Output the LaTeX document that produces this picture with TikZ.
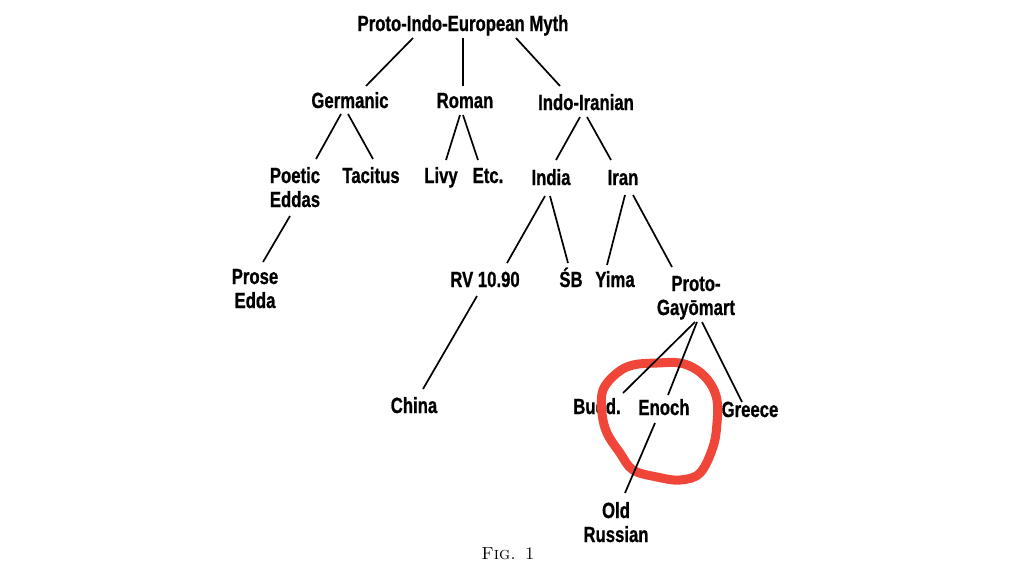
\documentclass[tikz,border=0pt]{standalone}
\usepackage{fontspec}
\newfontfamily\condfont{Liberation Sans Bold}[FakeStretch=0.76, FakeBold=0.8]
\usetikzlibrary{calc}
\definecolor{markred}{RGB}{240,70,58}
\tikzset{
  myth/.style={font=\condfont\fontsize{22}{24}\selectfont, inner sep=0pt, anchor=base, align=center},
  branch/.style={line width=1.7pt},
  ring/.style={draw=markred, line width=9pt, line join=round}
}
\begin{document}
\begin{tikzpicture}[x=1pt, y=-1pt]
	\useasboundingbox[fill=white] (0,0) rectangle (1024,563);
	\node[myth] (pie) at (463, 31) {Proto-Indo-European Myth};
	\node[myth] (germanic) at (350, 108) {Germanic};
	\node[myth] (roman) at (465, 108) {Roman};
	\node[myth] (indoir) at (586, 110) {Indo-Iranian};
	\node[myth] (poetic) at (295, 207) {Poetic\\Eddas};
	\node[myth] (tacitus) at (371, 183) {Tacitus};
	\node[myth] (livy) at (441, 183) {Livy};
	\node[myth] (etc) at (488, 183) {Etc.};
	\node[myth] (india) at (551, 185) {India};
	\node[myth] (iran) at (623, 185) {Iran};
	\node[myth] (prose) at (255, 308) {Prose\\Edda};
	\node[myth] (rv) at (485, 287) {RV 10.90};
	\node[myth] (sb) at (571, 287) {ŚB};
	\node[myth] (yima) at (615, 287) {Yima};
	\node[myth] (gayomart) at (696, 315) {Proto-\\Gayōmart};
	\node[myth] (china) at (414, 413) {China};
	\node[myth] (budd) at (597, 414) {Budd.};
	\node[myth] (enoch) at (664, 415) {Enoch};
	\node[myth] (greece) at (750, 417) {Greece};
	\node[myth] (russian) at (616, 542) {Old\\Russian};
	\node[anchor=base, inner sep=0pt, font=\fontsize{17.5}{20}\selectfont] (fig) at (508, 559) {\scshape\addfontfeature{LetterSpace=8}Fig. 1};
	% the hand-drawn ring round Enoch
	\draw[ring] plot[smooth cycle, tension=0.6] coordinates {(657,363) (680,363) (697,370) (710,383) (717,400) (717,423) (713,447) (700,473) (680,480) (657,477) (633,470) (620,453) (607,433) (602,413) (603,390) (617,373) (633,365)};
	\draw[branch] ($(pie.base)+(-50,7)$) -- ($(germanic.base)+(16,-22)$);
	\draw[branch] ($(pie.base)+(0,7)$) -- ($(roman.base)+(-2,-22)$);
	\draw[branch] ($(pie.base)+(53,7)$) -- ($(indoir.base)+(-26,-24)$);
	\draw[branch] ($(germanic.base)+(-9,6)$) -- ($(poetic.base)+(21,-48)$);
	\draw[branch] ($(germanic.base)+(-2,6)$) -- ($(tacitus.base)+(2,-24)$);
	\draw[branch] ($(roman.base)+(-5,7)$) -- ($(livy.base)+(5,-23)$);
	\draw[branch] ($(roman.base)+(-2,7)$) -- ($(etc.base)+(-10,-23)$);
	\draw[branch] ($(indoir.base)+(-6,7)$) -- ($(india.base)+(5,-25)$);
	\draw[branch] ($(indoir.base)+(1,7)$) -- ($(iran.base)+(-12,-25)$);
	\draw[branch] ($(poetic.base)+(-5,9)$) -- ($(prose.base)+(8,-46)$);
	\draw[branch] ($(india.base)+(-6,11)$) -- ($(rv.base)+(22,-24)$);
	\draw[branch] ($(india.base)+(-1,11)$) -- ($(sb.base)+(-3,-24)$);
	\draw[branch] ($(iran.base)+(2,10)$) -- ($(yima.base)+(-8,-22)$);
	\draw[branch] ($(iran.base)+(10,10)$) -- ($(gayomart.base)+(-24,-48)$);
	\draw[branch] ($(rv.base)+(-8,9)$) -- ($(china.base)+(9,-24)$);
	\draw[branch] ($(gayomart.base)+(-1,7)$) -- ($(budd.base)+(26,-21)$);
	\draw[branch] ($(gayomart.base)+(1,7)$) -- ($(enoch.base)+(4,-20)$);
	\draw[branch] ($(gayomart.base)+(6,7)$) -- ($(greece.base)+(-8,-15)$);
	\draw[branch] ($(enoch.base)+(-9,8)$) -- ($(russian.base)+(9,-49)$);
\end{tikzpicture}
\end{document}
